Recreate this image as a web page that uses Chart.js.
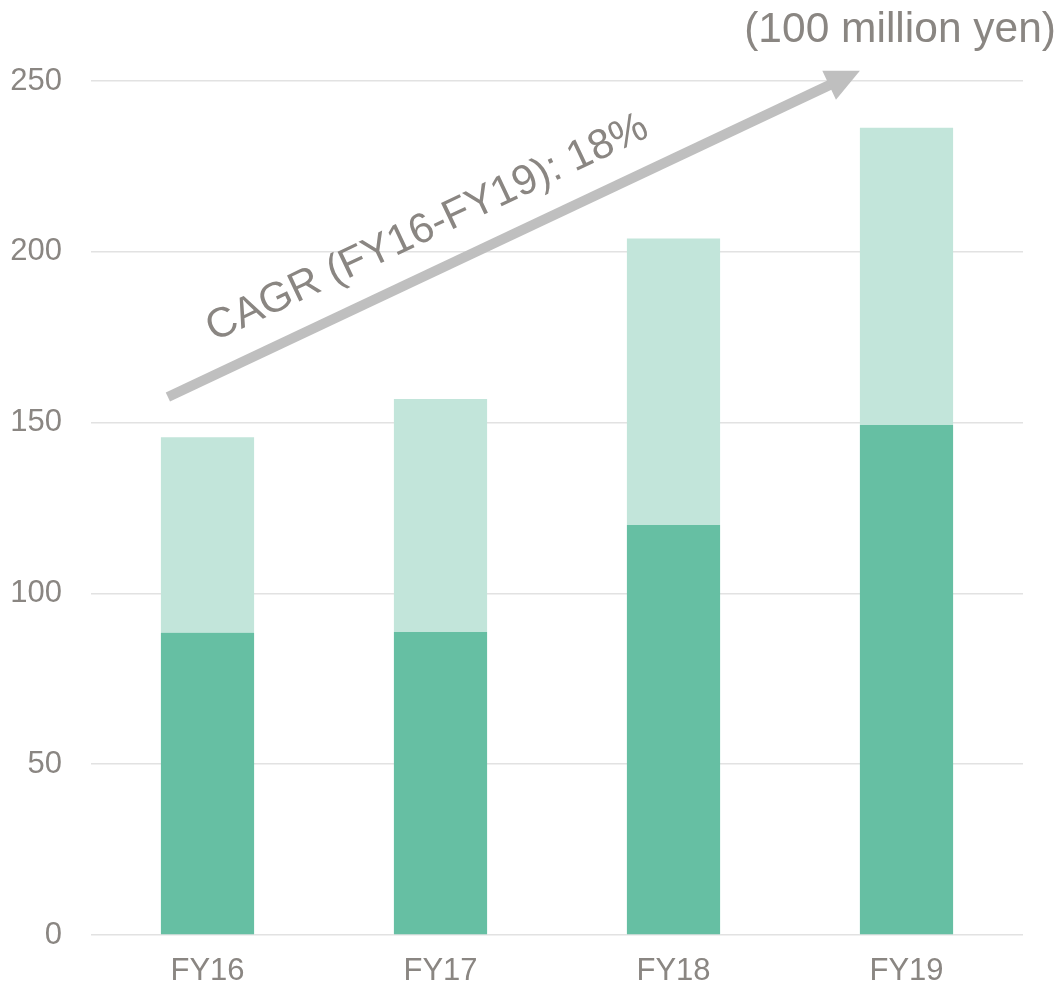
<!DOCTYPE html>
<html>
<head>
<meta charset="utf-8">
<title>Revenue FY16-FY19</title>
<script src="https://cdn.jsdelivr.net/npm/chart.js@4.4.1/dist/chart.umd.min.js"></script>
<style>
    html, body { margin: 0; padding: 0; background: #ffffff; }
    #wrap { width: 1059px; height: 987px; position: relative; }
</style>
</head>
<body>
<div id="wrap"><canvas id="chart"></canvas></div>
<script>
// Chart data (100 million yen)
var fiscalYears = ['FY16', 'FY17', 'FY18', 'FY19'];
var baseValues = [88.5, 88.7, 120.0, 149.3];
var upperValues = [57.2, 68.2, 83.9, 87.0];
var yTicks = [0, 50, 100, 150, 200, 250];

var unitLabel = '(100 million yen)';
var cagrLabel = 'CAGR (FY16-FY19): 18%';

// arrow annotation, in scale units (category index, value)
var arrowFrom = { x: -0.17, y: 157.5 };
var arrowTo = { x: 2.80, y: 253 };
var cagrAnchor = { x: 0.965, y: 203.8 };

var TEXT_GREY = '#8a8682';
var FONT = '"Liberation Sans", Arial, sans-serif';

var annotationPlugin = {
    id: 'annotations',
    afterDatasetsDraw: function(chart) {
        var ctx = chart.ctx;
        var xs = chart.scales.x, ys = chart.scales.y;
        var area = chart.chartArea;

        var x1 = xs.getPixelForValue(arrowFrom.x), y1 = ys.getPixelForValue(arrowFrom.y);
        var x2 = xs.getPixelForValue(arrowTo.x), y2 = ys.getPixelForValue(arrowTo.y);
        var ang = Math.atan2(y2 - y1, x2 - x1);
        var headLen = 34, headHalf = 16;
        var bx = x2 - headLen * Math.cos(ang), by = y2 - headLen * Math.sin(ang);

        ctx.save();
        ctx.strokeStyle = '#bfbfbf';
        ctx.fillStyle = '#bfbfbf';
        ctx.lineWidth = 10;
        ctx.lineCap = 'butt';
        ctx.beginPath();
        ctx.moveTo(x1, y1);
        ctx.lineTo(bx + 2 * Math.cos(ang), by + 2 * Math.sin(ang));
        ctx.stroke();

        ctx.beginPath();
        ctx.moveTo(x2, y2);
        ctx.lineTo(bx + headHalf * Math.sin(ang), by - headHalf * Math.cos(ang));
        ctx.lineTo(bx - headHalf * Math.sin(ang), by + headHalf * Math.cos(ang));
        ctx.closePath();
        ctx.fill();

        // rotated CAGR text
        ctx.translate(xs.getPixelForValue(cagrAnchor.x), ys.getPixelForValue(cagrAnchor.y));
        ctx.rotate(ang);
        ctx.fillStyle = TEXT_GREY;
        ctx.font = '42px ' + FONT;
        ctx.textAlign = 'center';
        ctx.textBaseline = 'alphabetic';
        ctx.fillText(cagrLabel, 0, 0);
        ctx.restore();

        // unit label top right
        ctx.save();
        ctx.fillStyle = TEXT_GREY;
        ctx.font = '42.5px ' + FONT;
        ctx.textAlign = 'right';
        ctx.textBaseline = 'alphabetic';
        ctx.fillText(unitLabel, area.right + 33, 42);
        ctx.restore();
    }
};

var chart = new Chart(document.getElementById('chart').getContext('2d'), {
    type: 'bar',
    data: {
        labels: fiscalYears,
        datasets: [{
            label: 'Base',
            data: baseValues,
            backgroundColor: '#66bfa3',
            borderWidth: 0
        }, {
            label: 'Upper',
            data: upperValues,
            backgroundColor: '#c2e5da',
            borderWidth: 0
        }]
    },
    options: {
        responsive: true,
        maintainAspectRatio: false,
        animation: false,
        layout: { padding: { top: 81, right: 36, bottom: 0, left: 0 } },
        plugins: {
            legend: { display: false },
            tooltip: { enabled: false }
        },
        datasets: {
            bar: { categoryPercentage: 1.0, barPercentage: 0.4 }
        },
        scales: {
            x: {
                stacked: true,
                grid: { display: false, drawTicks: false },
                border: { display: false },
                ticks: { color: TEXT_GREY, font: { family: FONT, size: 31 }, padding: 18 },
                afterFit: function(scale) { scale.height = 52; }
            },
            y: {
                stacked: true,
                min: 0,
                max: 250,
                afterBuildTicks: function(scale) {
                    scale.ticks = yTicks.map(function(v) { return { value: v }; });
                },
                grid: { color: '#e2e2e2', lineWidth: 1.5, drawTicks: false },
                border: { display: false },
                ticks: { color: TEXT_GREY, font: { family: FONT, size: 31 }, padding: 29 },
                afterFit: function(scale) { scale.width = 91; }
            }
        }
    },
    plugins: [annotationPlugin]
});
</script>
</body>
</html>
